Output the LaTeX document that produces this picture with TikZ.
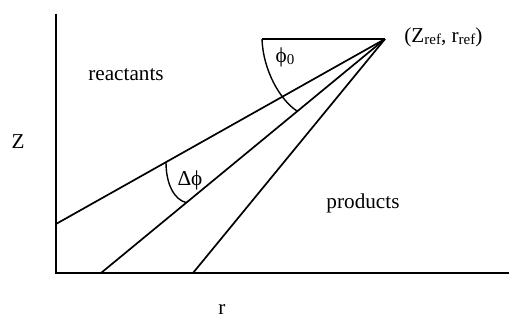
\documentclass[tikz,border=0pt]{standalone}
\usepackage{fontspec}
\setmainfont{Liberation Serif}
\newcommand{\subsm}[1]{\raisebox{-1.2pt}{\fontsize{7.5}{9}\selectfont #1}}
\tikzset{
  ln/.style={line width=0.85pt, black},
  lbl/.style={inner sep=0pt, font=\fontsize{10.6}{13}\selectfont},
}
\begin{document}
\begin{tikzpicture}[x=0.5pt,y=-0.5pt]
\useasboundingbox (0,0) rectangle (509,320);
% key points
\coordinate (top) at (56,14);
\coordinate (origin) at (56,273);
\coordinate (right) at (509,273);
\coordinate (apex) at (385,39);
\coordinate (e1) at (56,224);
\coordinate (e2) at (101,273);
\coordinate (e3) at (193,273);
\coordinate (h0) at (262,39);
\coordinate (a0) at (297,111);
\coordinate (d1) at (166,162.5);
\coordinate (d2) at (186,202.5);
% axes
\draw[ln] (top) -- (origin) -- (right);
% rays
\draw[ln] (apex) -- (e1);
\draw[ln] (apex) -- (e2);
\draw[ln] (apex) -- (e3);
\draw[ln] (apex) -- (h0);
% angle arcs
\draw[line width=0.7pt] (h0) .. controls (263,70) and (280,100) .. (a0);
\draw[line width=0.7pt] (d1) .. controls (166,185) and (175,200) .. (d2);
% labels
\node[lbl] (reac) at (126,75) {reactants};
\node[lbl] (prod) at (363,203) {products};
\node[lbl] (zlab) at (18,142) {Z};
\node[lbl] (rlab) at (222,310) {r};
\node[lbl, anchor=west] (ref) at (404,37) {(Z\subsm{ref}, r\subsm{ref})};
\node[lbl] (phi0) at (285,57) {ϕ\subsm{0}};
\node[lbl] (dphi) at (190,180) {Δϕ};
\end{tikzpicture}
\end{document}
